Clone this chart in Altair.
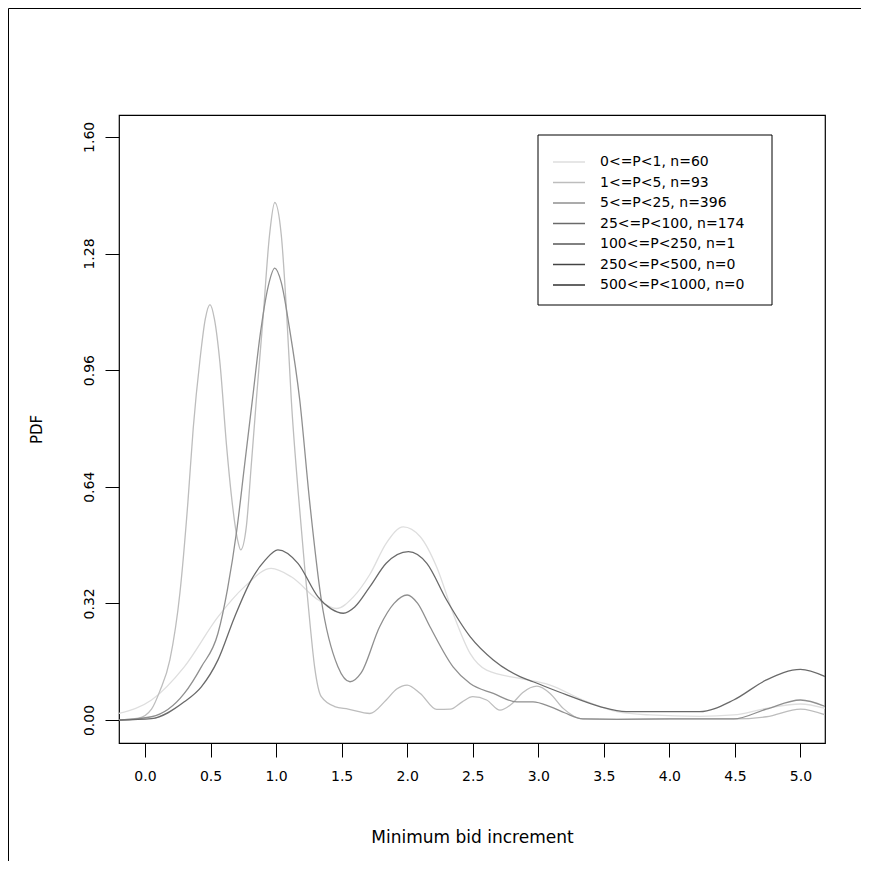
import altair as alt
import pandas as pd

# ---------------- data ----------------
labels = ["0<=P<1, n=60", "1<=P<5, n=93", "5<=P<25, n=396", "25<=P<100, n=174",
          "100<=P<250, n=1", "250<=P<500, n=0", "500<=P<1000, n=0"]
colors = ["#DEDEDE", "#BDBDBD", "#8F8F8F", "#6A6A6A", "#575757", "#444444", "#303030"]

x_ticks = [0.0, 0.5, 1.0, 1.5, 2.0, 2.5, 3.0, 3.5, 4.0, 4.5, 5.0]
y_ticks = [0.0, 0.32, 0.64, 0.96, 1.28, 1.60]

# 0<=P<1
c_x = [-0.2, 0.05, 0.30, 0.557, 0.76, 0.963, 1.116, 1.32, 1.46, 1.59, 1.716, 1.84, 1.97,
       2.10, 2.225, 2.35, 2.48, 2.606, 2.86, 3.09, 3.34, 3.60, 3.85, 4.23, 4.49, 4.74, 5.0, 5.19]
c_y = [0.018, 0.055, 0.146, 0.283, 0.366, 0.416, 0.393, 0.33, 0.306, 0.338, 0.40, 0.485, 0.53,
       0.503, 0.42, 0.293, 0.183, 0.137, 0.114, 0.096, 0.055, 0.023, 0.014, 0.01, 0.014, 0.032, 0.044, 0.032]

# 1<=P<5
a_x = [-0.2, -0.05, 0.05, 0.114, 0.19, 0.267, 0.328, 0.368, 0.42, 0.46, 0.496, 0.53, 0.572, 0.623,
       0.658, 0.709, 0.73, 0.773, 0.81, 0.85, 0.90, 0.95, 0.99, 1.04, 1.08, 1.116, 1.17, 1.218, 1.26,
       1.294, 1.345, 1.447, 1.55, 1.716, 1.84, 1.92, 2.0, 2.10, 2.225, 2.33, 2.42, 2.50, 2.606, 2.708,
       2.80, 2.88, 2.99, 3.09, 3.19, 3.34, 3.6, 4.0, 4.49, 4.74, 5.0, 5.19]
a_y = [0.0, 0.005, 0.03, 0.08, 0.165, 0.35, 0.60, 0.80, 0.99, 1.10, 1.14, 1.10, 0.98, 0.75,
       0.62, 0.49, 0.467, 0.53, 0.695, 0.88, 1.10, 1.33, 1.42, 1.33, 1.12, 0.88, 0.62, 0.42, 0.26,
       0.146, 0.064, 0.037, 0.03, 0.018, 0.055, 0.085, 0.096, 0.073, 0.029, 0.03, 0.05, 0.064, 0.055, 0.027,
       0.045, 0.075, 0.093, 0.073, 0.032, 0.003, 0.002, 0.003, 0.003, 0.009, 0.03, 0.014]

# 5<=P<25
b_x = [-0.2, 0.05, 0.30, 0.43, 0.557, 0.63, 0.70, 0.76, 0.82, 0.88, 0.94, 0.99, 1.04, 1.10, 1.18,
       1.256, 1.345, 1.472, 1.564, 1.65, 1.79, 1.90, 2.0, 2.08, 2.174, 2.35, 2.48, 2.657, 2.835, 2.96,
       3.09, 3.2, 3.34, 3.6, 4.0, 4.49, 4.74, 5.0, 5.19]
b_y = [0.0, 0.009, 0.073, 0.146, 0.238, 0.36, 0.52, 0.70, 0.88, 1.06, 1.19, 1.24, 1.20, 1.08, 0.88,
       0.60, 0.33, 0.146, 0.105, 0.13, 0.256, 0.32, 0.343, 0.32, 0.256, 0.146, 0.10, 0.073, 0.05, 0.05,
       0.037, 0.02, 0.003, 0.002, 0.003, 0.003, 0.03, 0.055, 0.037]

# 25<=P<100
d_x = [-0.2, 0.05, 0.30, 0.43, 0.557, 0.684, 0.81, 0.92, 1.014, 1.167, 1.32, 1.42, 1.513, 1.60,
       1.716, 1.84, 2.01, 2.15, 2.30, 2.48, 2.657, 2.86, 2.96, 3.217, 3.47, 3.67, 4.23, 4.49, 4.74, 5.0, 5.19]
d_y = [0.0, 0.004, 0.05, 0.091, 0.165, 0.283, 0.384, 0.44, 0.467, 0.43, 0.338, 0.305, 0.293, 0.31,
       0.366, 0.43, 0.462, 0.43, 0.33, 0.229, 0.165, 0.119, 0.105, 0.069, 0.037, 0.023, 0.023, 0.055, 0.11, 0.139, 0.119]

rows = []
for name, xs, ys in [(labels[0], c_x, c_y), (labels[1], a_x, a_y),
                     (labels[2], b_x, b_y), (labels[3], d_x, d_y)]:
    for xv, yv in zip(xs, ys):
        rows.append({"series": name, "x": xv, "y": yv})
df = pd.DataFrame(rows)
leg_df = pd.DataFrame({"series": labels, "i": list(range(len(labels)))})

FONT = "DejaVu Sans"
color_scale = alt.Scale(domain=labels, range=colors)

lines = alt.Chart(df).mark_line(interpolate="monotone", strokeWidth=1.3, clip=True).encode(
    x=alt.X("x:Q",
            scale=alt.Scale(domain=[-0.198, 5.187], nice=False, zero=False),
            axis=alt.Axis(values=x_ticks, format=".1f", title="Minimum bid increment",
                          domain=False, grid=False, tickSize=14, tickColor="black",
                          labelPadding=12, titlePadding=46, labelFontSize=14,
                          titleFontSize=17, labelColor="black", titleColor="black",
                          titleFontWeight="normal", labelFont=FONT, titleFont=FONT)),
    y=alt.Y("y:Q",
            scale=alt.Scale(domain=[-0.063, 1.66], nice=False, zero=False),
            axis=alt.Axis(values=y_ticks, format=".2f", title="PDF",
                          domain=False, grid=False, tickSize=14, tickColor="black",
                          labelAngle=270, labelAlign="center", labelBaseline="bottom",
                          labelPadding=9, titlePadding=38, labelFontSize=14,
                          titleFontSize=15, labelColor="black", titleColor="black",
                          titleFontWeight="normal", labelFont=FONT, titleFont=FONT)),
    color=alt.Color("series:N", scale=color_scale, legend=None),
)

box = alt.Chart(pd.DataFrame({"k": [0]})).mark_rect(
    fill="white", stroke="black", strokeWidth=1).encode(
    x=alt.value(419), x2=alt.value(653), y=alt.value(20), y2=alt.value(190))

leg_rules = alt.Chart(leg_df).transform_calculate(ly="47 + 20.5*datum.i").mark_rule(
    strokeWidth=1.5).encode(
    x=alt.value(434), x2=alt.value(466),
    y=alt.Y("ly:Q", scale=None, axis=None),
    color=alt.Color("series:N", scale=color_scale, legend=None))

leg_text = alt.Chart(leg_df).transform_calculate(ly="47 + 20.5*datum.i").mark_text(
    align="left", baseline="middle", fontSize=14, font=FONT, color="black").encode(
    x=alt.value(481),
    y=alt.Y("ly:Q", scale=None, axis=None),
    text="series:N")

frame_v = alt.Chart(pd.DataFrame({"k": [0]})).mark_rule(color="black", strokeWidth=1).encode(
    x=alt.value(-110.5), y=alt.value(-106.5), y2=alt.value(760))
frame_h = alt.Chart(pd.DataFrame({"k": [0]})).mark_rule(color="black", strokeWidth=1).encode(
    x=alt.value(-110.5), x2=alt.value(760), y=alt.value(-106.5))

chart = alt.layer(lines, box, leg_rules, leg_text, frame_v, frame_h).properties(
    width=706, height=628,
    autosize=alt.AutoSizeParams(type="none"),
    padding={"left": 111, "top": 107, "right": 36, "bottom": 118},
    background="white",
).configure_view(stroke="black", strokeWidth=1.2)

chart.save("out.html", embed_options={"renderer": "svg", "actions": False})
